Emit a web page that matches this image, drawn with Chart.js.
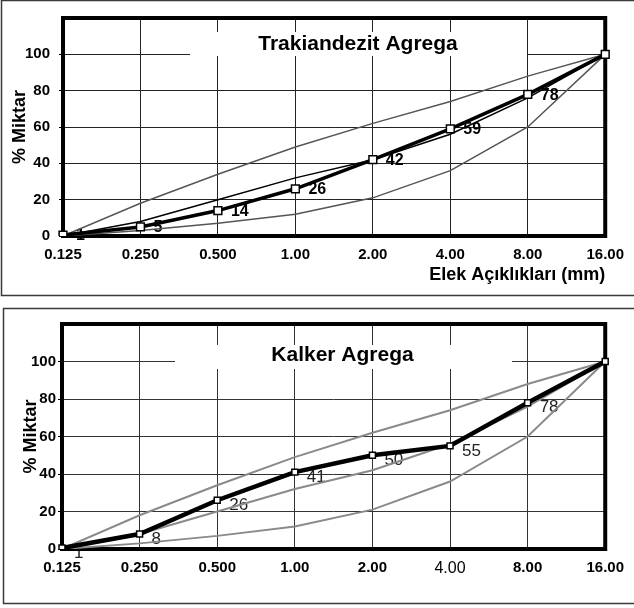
<!DOCTYPE html>
<html><head><meta charset="utf-8">
<script src="https://cdn.jsdelivr.net/npm/chart.js@4.4.1/dist/chart.umd.min.js"></script>
<style>
html,body{margin:0;padding:0;background:#fff;}
#w1{position:absolute;left:0;top:0;width:634px;height:297px;}
#w2{position:absolute;left:0;top:306px;width:634px;height:300px;}
</style></head><body>
<div id="w1"><canvas id="c1"></canvas></div>
<div id="w2"><canvas id="c2"></canvas></div>
<script>
// ---- data ----
const sieveSizes = ['0.125', '0.250', '0.500', '1.00', '2.00', '4.00', '8.00', '16.00'];
const trakiandezit = [0.5, 5, 14, 26, 42, 59, 78, 100];
const kalker = [0.5, 8, 26, 41, 50, 55, 78, 100];
const limitA16 = [0, 3, 7, 12, 21, 36, 60, 100];
const limitB16 = [0, 8, 20, 32, 42, 56, 76, 100];
const limitC16 = [0, 18, 34, 49, 62, 74, 88, 100];
const yTicks = [0, 20, 40, 60, 80, 100];
const yMax = 120;
const titleTop = 'Trakiandezit Agrega';
const titleBottom = 'Kalker Agrega';
const yTitle = '% Miktar';
const xTitle = 'Elek Açıklıkları (mm)';

const FAM = '"Liberation Sans", Arial, Helvetica, sans-serif';

function framePlugin(cfg) {
  return {
    id: 'frame',
    beforeDraw(chart) {
      const ctx = chart.ctx;
      ctx.save();
      ctx.fillStyle = '#fff';
      ctx.fillRect(0, 0, chart.width, chart.height);
      ctx.strokeStyle = '#3a3a3a';
      ctx.lineWidth = 1.5;
      ctx.beginPath();
      ctx.moveTo(chart.width + 5, cfg.box.top);
      ctx.lineTo(cfg.box.left, cfg.box.top);
      ctx.lineTo(cfg.box.left, cfg.box.bottom);
      ctx.lineTo(chart.width + 5, cfg.box.bottom);
      ctx.stroke();
      ctx.restore();
    },
    beforeDatasetsDraw(chart) {
      const ctx = chart.ctx, a = chart.chartArea;
      ctx.save();
      // title box
      const tb = cfg.titleBox;
      ctx.fillStyle = '#fff';
      ctx.fillRect(tb.x0, tb.y0, tb.x1 - tb.x0, tb.y1 - tb.y0);
      ctx.fillStyle = '#000';
      ctx.font = 'bold 21px ' + FAM;
      ctx.textAlign = 'center';
      ctx.textBaseline = 'middle';
      ctx.fillText(cfg.title, cfg.titleX, cfg.titleY);
      // value labels
      const meta = chart.getDatasetMeta(0);
      const data = chart.data.datasets[0].data;
      ctx.font = cfg.labelFont;
      ctx.fillStyle = cfg.labelColor;
      ctx.textAlign = 'left';
      meta.data.forEach((pt, i) => {
        if (i === data.length - 1) return;
        ctx.fillText(String(Math.round(data[i])), pt.x + cfg.dx, pt.y + cfg.dy);
      });
      // thick plot frame
      ctx.strokeStyle = '#000';
      ctx.lineWidth = 4;
      ctx.strokeRect(a.left, a.top, a.right - a.left, a.bottom - a.top);
      ctx.restore();
    }
  };
}

function makeChart(id, opts) {
  const datasets = [
    {
      data: opts.main, borderColor: '#000', borderWidth: opts.mainWidth,
      pointStyle: 'rect', pointRadius: opts.pointRadius, pointBackgroundColor: '#fff',
      pointBorderColor: '#000', pointBorderWidth: 1.5, tension: 0
    },
    { data: limitC16, borderColor: opts.upperColor, borderWidth: opts.limWidth, pointRadius: 0, tension: 0 },
    { data: limitB16, borderColor: opts.midColor, borderWidth: opts.limWidth, pointRadius: 0, tension: 0 },
    { data: limitA16, borderColor: opts.lowerColor, borderWidth: opts.limWidth, pointRadius: 0, tension: 0 }
  ];
  return new Chart(document.getElementById(id), {
    type: 'line',
    data: { labels: sieveSizes, datasets },
    options: {
      responsive: true, maintainAspectRatio: false, animation: false,
      layout: { padding: { top: opts.padTop, right: 21, left: 0, bottom: 0 } },
      plugins: { legend: { display: false }, tooltip: { enabled: false } },
      scales: {
        x: {
          type: 'category', offset: false,
          afterFit: s => { s.height = opts.xHeight; },
          grid: { color: opts.gridColor, lineWidth: 1, drawTicks: false, offset: false },
          border: { display: false },
          ticks: {
            color: '#000', padding: 10, maxRotation: 0, autoSkip: false,
            font: opts.xTickFont
          },
          title: opts.xTitle ? {
            display: true, text: xTitle, align: 'end', color: '#000',
            font: { family: FAM, size: 18, weight: 'bold' }, padding: { top: 0, bottom: 11 }
          } : { display: false }
        },
        y: {
          min: 0, max: yMax,
          afterBuildTicks: s => { s.ticks = yTicks.map(v => ({ value: v })); },
          afterFit: s => { s.width = opts.yWidth; },
          grid: { color: opts.gridColor, lineWidth: 1, drawTicks: true, tickLength: 4, tickColor: '#000' },
          border: { display: false },
          ticks: { color: '#000', padding: opts.yPad, font: { family: FAM, size: 15, weight: 'bold' } },
          title: {
            display: true, text: yTitle, color: '#000',
            font: { family: FAM, size: 18, weight: 'bold' }, padding: { top: opts.yTitlePad, bottom: 0 }
          }
        }
      }
    },
    plugins: [framePlugin(opts.frame)]
  });
}

makeChart('c1', {
  main: trakiandezit, mainWidth: 3.5, pointRadius: 5.5, limWidth: 1.5,
  upperColor: '#555', midColor: '#000', lowerColor: '#555', gridColor: '#222',
  padTop: 16, xHeight: 61, yWidth: 63, yPad: 9, yTitlePad: 9, xTitle: true,
  xTickFont: { family: FAM, size: 15, weight: 'bold' },
  frame: {
    box: { left: 1.5, top: 0.5, bottom: 295.5 },
    titleBox: { x0: 190, y0: 32, x1: 527, y1: 56 },
    title: titleTop, titleX: 358, titleY: 44,
    labelFont: 'bold 16px ' + FAM, labelColor: '#000', dx: 13, dy: 1
  }
});

makeChart('c2', {
  main: kalker, mainWidth: 4.5, pointRadius: 4.2, limWidth: 2,
  upperColor: '#8a8a8a', midColor: '#8a8a8a', lowerColor: '#8a8a8a', gridColor: '#333',
  padTop: 18, xHeight: 57, yWidth: 62, yPad: 2, yTitlePad: 20, xTitle: false,
  xTickFont: (c) => c.index === 5
    ? { family: FAM, size: 16, weight: 'normal' }
    : { family: FAM, size: 15, weight: 'bold' },
  frame: {
    box: { left: 3.5, top: 2.5, bottom: 297.5 },
    titleBox: { x0: 175, y0: 39, x1: 512, y1: 63 },
    title: titleBottom, titleX: 342.5, titleY: 49.5,
    labelFont: '17px ' + FAM, labelColor: '#222', dx: 12, dy: 5
  }
});
</script>
</body></html>
